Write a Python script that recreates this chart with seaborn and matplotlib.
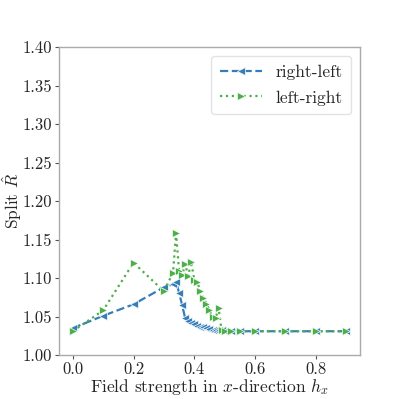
import matplotlib
matplotlib.use("Agg")
import matplotlib.pyplot as plt
import seaborn as sns
import pandas as pd

hx_rl = [0.0, 0.1, 0.2, 0.3, 0.33, 0.34, 0.35, 0.36, 0.37, 0.38, 0.39, 0.40, 0.41, 0.42,
         0.43, 0.44, 0.45, 0.46, 0.47, 0.48, 0.49, 0.5, 0.52, 0.55, 0.6, 0.7, 0.8, 0.9]
r_rl = [1.035, 1.051, 1.066, 1.088, 1.092, 1.095, 1.081, 1.065, 1.048, 1.044, 1.042, 1.040,
        1.038, 1.037, 1.036, 1.035, 1.034, 1.033, 1.033, 1.032, 1.032, 1.031, 1.031, 1.031,
        1.031, 1.031, 1.031, 1.031]

hx_lr = [0.0, 0.1, 0.2, 0.3, 0.33, 0.34, 0.35, 0.36, 0.37, 0.38, 0.39, 0.40, 0.41, 0.42,
         0.43, 0.44, 0.45, 0.46, 0.47, 0.48, 0.49, 0.5, 0.52, 0.55, 0.6, 0.7, 0.8, 0.9]
r_lr = [1.031, 1.058, 1.120, 1.083, 1.107, 1.158, 1.109, 1.104, 1.118, 1.103, 1.121, 1.097,
        1.095, 1.083, 1.074, 1.067, 1.058, 1.049, 1.048, 1.061, 1.032, 1.031, 1.031, 1.031,
        1.031, 1.031, 1.031, 1.031]

labels = ["right-left", "left-right"]
yticks = [1.00, 1.05, 1.10, 1.15, 1.20, 1.25, 1.30, 1.35, 1.40]
xticks = [0.0, 0.2, 0.4, 0.6, 0.8]

sns.set_style("white")
plt.rcParams["font.family"] = ["cmr10", "DejaVu Serif"]
plt.rcParams["mathtext.fontset"] = "cm"
plt.rcParams["axes.formatter.use_mathtext"] = True
plt.rcParams["axes.unicode_minus"] = False

fig = plt.figure(figsize=(3.99, 3.99), dpi=100)
ax = fig.add_axes([0.148, 0.11, 0.754, 0.772])

df_rl = pd.DataFrame({"hx": hx_rl, "R": r_rl})
df_lr = pd.DataFrame({"hx": hx_lr, "R": r_lr})

sns.lineplot(data=df_rl, x="hx", y="R", ax=ax, color="#377eb8", linestyle="--",
             marker="<", markersize=6, markeredgewidth=0.5, linewidth=1.6, label=labels[0])
sns.lineplot(data=df_lr, x="hx", y="R", ax=ax, color="#4daf4a", linestyle=":",
             marker=">", markersize=6, markeredgewidth=0.5, linewidth=1.6, label=labels[1])

ax.set_ylim(1.0, 1.4)
ax.set_yticks(yticks)
ax.set_yticklabels([f"{v:.2f}" for v in yticks])
ax.set_xticks(xticks)
ax.set_xticklabels([f"{v:.1f}" for v in xticks])
ax.tick_params(axis="both", labelsize=12, length=3, width=0.8, direction="out",
               left=True, bottom=True, color="#555555", pad=2)
for s in ax.spines.values():
    s.set_color("#aaaaaa")
    s.set_linewidth(1.0)

ax.set_xlabel("Field strength in $x$-direction $h_x$", fontsize=12.5)
ax.xaxis.set_label_coords(0.5, -0.072)
ax.set_ylabel("Split $\\hat{R}$", fontsize=12.5)
ax.yaxis.set_label_coords(-0.115, 0.5)

leg = ax.legend(loc="upper right", fontsize=12.5, frameon=True, handlelength=2.4,
                borderpad=0.5, labelspacing=0.6)
leg.get_frame().set_edgecolor("#dddddd")

fig.savefig("out.png", dpi=100)
